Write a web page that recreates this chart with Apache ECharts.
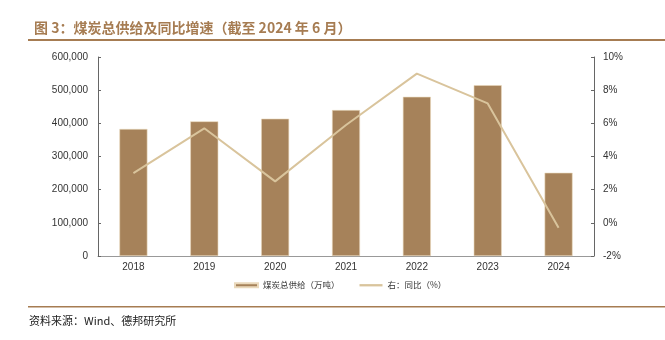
<!DOCTYPE html>
<html><head><meta charset="utf-8">
<script src="https://cdn.jsdelivr.net/npm/echarts@6/dist/echarts.min.js"></script>
<style>html,body{margin:0;padding:0;background:#fff}#c{width:665px;height:340px}</style>
</head><body><div id="c"></div>
<script>
const categories = ['2018','2019','2020','2021','2022','2023','2024'];
const supply = [383000, 406000, 414000, 440000, 480000, 515000, 251000];
const yoy = [3.0, 5.7, 2.5, 5.9, 9.0, 7.2, -0.3];
const leftTicks = {min: 0, max: 600000, interval: 100000};
const rightTicks = {min: -2, max: 10, interval: 2};

const chart = echarts.init(document.getElementById('c'));
const brown = '#A6825A';
const cream = '#D9C49C';
const axisGray = '#999999';
const labelStyle = {color: '#333', fontSize: 10, fontFamily: 'Liberation Sans, Arial, sans-serif'};
chart.setOption({
  animation: false,
  title: {
    text: '图 3：煤炭总供给及同比增速（截至 2024 年 6 月）',
    left: 29, top: 16,
    textStyle: {color: '#A67C52', fontSize: 14, fontWeight: 'bold', fontFamily: 'Noto Sans CJK SC, sans-serif'}
  },
  graphic: [
    {type: 'rect', shape: {x: 28, y: 39, width: 637, height: 2}, style: {fill: '#A67C52'}},
    {type: 'rect', shape: {x: 28, y: 306, width: 637, height: 1.5}, style: {fill: '#A67C52'}},
    {type: 'text', left: 29, top: 315, style: {text: '资料来源：Wind、德邦研究所', fill: '#222', fontSize: 11, fontFamily: 'Noto Sans CJK SC, sans-serif'}}
  ],
  legend: {
    top: 281, left: 234, padding: 0,
    itemGap: 20, itemWidth: 23, itemHeight: 4,
    textStyle: {color: '#333', fontSize: 8.5, fontFamily: 'Noto Sans CJK SC, sans-serif'},
    data: [
      {name: '煤炭总供给（万吨）', icon: 'rect'},
      {name: '右：同比（%）', icon: 'path://M0,0 L10,0 L10,1 L0,1 Z'}
    ]
  },
  grid: {left: 98, right: 71, top: 57, bottom: 84},
  xAxis: {
    type: 'category', data: categories,
    axisLine: {lineStyle: {color: axisGray, width: 1}},
    axisTick: {inside: true, length: 3, lineStyle: {color: axisGray}},
    axisLabel: Object.assign({margin: 6}, labelStyle)
  },
  yAxis: [
    {
      type: 'value', min: leftTicks.min, max: leftTicks.max, interval: leftTicks.interval,
      axisLine: {show: true, lineStyle: {color: '#666'}},
      axisTick: {show: true, inside: true, length: 3, lineStyle: {color: '#666'}},
      splitLine: {show: false},
      axisLabel: Object.assign({margin: 10, formatter: v => v.toLocaleString('en-US')}, labelStyle)
    },
    {
      type: 'value', min: rightTicks.min, max: rightTicks.max, interval: rightTicks.interval,
      position: 'right',
      axisLine: {show: true, lineStyle: {color: '#666'}},
      axisTick: {show: true, inside: true, length: 3, lineStyle: {color: '#666'}},
      splitLine: {show: false},
      axisLabel: Object.assign({margin: 9, formatter: v => v + '%'}, labelStyle)
    }
  ],
  series: [
    {
      name: '煤炭总供给（万吨）', type: 'bar', data: supply, barWidth: 28,
      itemStyle: {color: brown, borderColor: '#EAD9BC', borderWidth: 0.6}
    },
    {
      name: '右：同比（%）', type: 'line', yAxisIndex: 1, data: yoy,
      symbol: 'none', lineStyle: {color: cream, width: 2}, itemStyle: {color: cream}
    }
  ]
});
</script></body></html>
